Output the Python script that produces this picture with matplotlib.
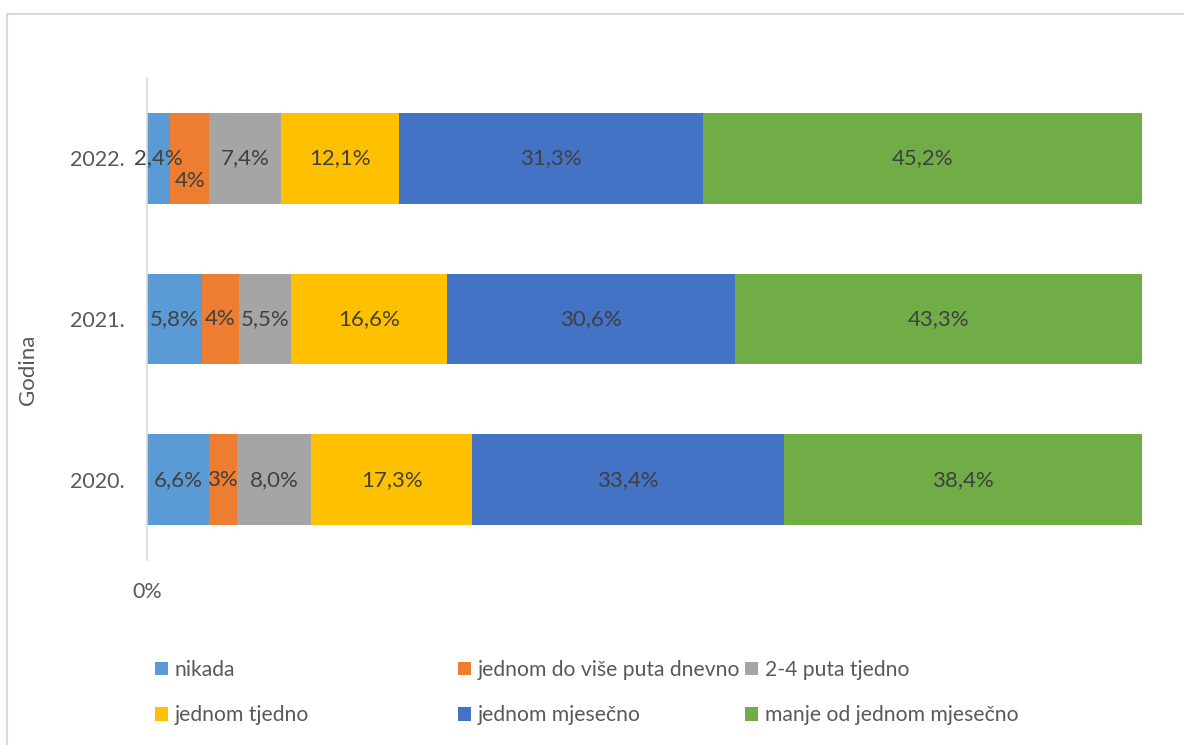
import numpy as np
import matplotlib
matplotlib.use("Agg")
import matplotlib.pyplot as plt
import matplotlib.patches as patches

plt.rcParams['font.family'] = ['Lato', 'DejaVu Sans']

# data (raw values as labelled; chart is 100% stacked so each row is normalised)
years = ['2020.', '2021.', '2022.']
categories = ['nikada', 'jednom do više puta dnevno', '2-4 puta tjedno',
              'jednom tjedno', 'jednom mjesečno', 'manje od jednom mjesečno']
nikada = [6.6, 5.8, 2.4]
dnevno = [3, 4, 4]
tjedno_24 = [8.0, 5.5, 7.4]
tjedno = [17.3, 16.6, 12.1]
mjesecno = [33.4, 30.6, 31.3]
manje = [38.4, 43.3, 45.2]
label_text = {
    'nikada': ['6,6%', '5,8%', '2,4%'],
    'jednom do više puta dnevno': ['3%', '4%', '4%'],
    '2-4 puta tjedno': ['8,0%', '5,5%', '7,4%'],
    'jednom tjedno': ['17,3%', '16,6%', '12,1%'],
    'jednom mjesečno': ['33,4%', '30,6%', '31,3%'],
    'manje od jednom mjesečno': ['38,4%', '43,3%', '45,2%'],
}
colors = ['#5B9BD5', '#ED7D31', '#A5A5A5', '#FFC000', '#4472C4', '#70AD47']

series = np.array([nikada, dnevno, tjedno_24, tjedno, mjesecno, manje], dtype=float)
totals = series.sum(axis=0)
shares = series / totals

fig = plt.figure(figsize=(11.84, 7.45), dpi=100)
ax = fig.add_axes([147/1184, 1-560/745, (1142-147)/1184, (560-78)/745])

# chart frame
fig.patches.append(patches.Rectangle((7/1184, -0.05), 1.1, 1-14/745+0.05,
                                     transform=fig.transFigure, fill=False,
                                     edgecolor='#D9D9D9', linewidth=1.5))

y = np.arange(len(years))
left = np.zeros(len(years))
handles = []
for i, cat in enumerate(categories):
    b = ax.barh(y, shares[i], left=left, height=0.565, color=colors[i], label=cat)
    handles.append(b)
    for j in range(len(years)):
        dy = 0
        if cat == 'jednom do više puta dnevno' and years[j] == '2022.':
            dy = -0.14
        ax.text(left[j] + shares[i][j]/2, y[j] + dy, label_text[cat][j],
                ha='center', va='center', fontsize=16, color='#404040')
    left += shares[i]

ax.set_xlim(0, 1)
ax.set_ylim(-0.5, 2.5)
ax.set_yticks(y)
ax.set_yticklabels(years)
ax.set_xticks([0])
ax.set_xticklabels(['0%'])
ax.tick_params(axis='both', length=0, labelsize=15.5, labelcolor='#595959')
ax.tick_params(axis='y', pad=16)
ax.tick_params(axis='x', pad=16)
for s in ['top', 'right', 'bottom']:
    ax.spines[s].set_visible(False)
ax.spines['left'].set_color('#D9D9D9')
ax.spines['left'].set_linewidth(1.2)
ax.set_ylabel('Godina', fontsize=16, color='#595959')
ax.yaxis.set_label_coords(-0.1095, 0.394)

# legend as three columns
cols = [(0, 3), (1, 4), (2, 5)]
xs = [155/1184, 458/1184, 745/1184]
for (a, b_), x0 in zip(cols, xs):
    leg = fig.legend([handles[a], handles[b_]], [categories[a], categories[b_]],
                     loc='upper left', bbox_to_anchor=(x0, 1-660/745), frameon=False,
                     fontsize=15.2, handlelength=0.62, handleheight=0.62,
                     handletextpad=0.32, labelspacing=1.2, borderaxespad=0,
                     borderpad=0)
    for t in leg.get_texts():
        t.set_color('#595959')

fig.savefig('out.png', dpi=100)
